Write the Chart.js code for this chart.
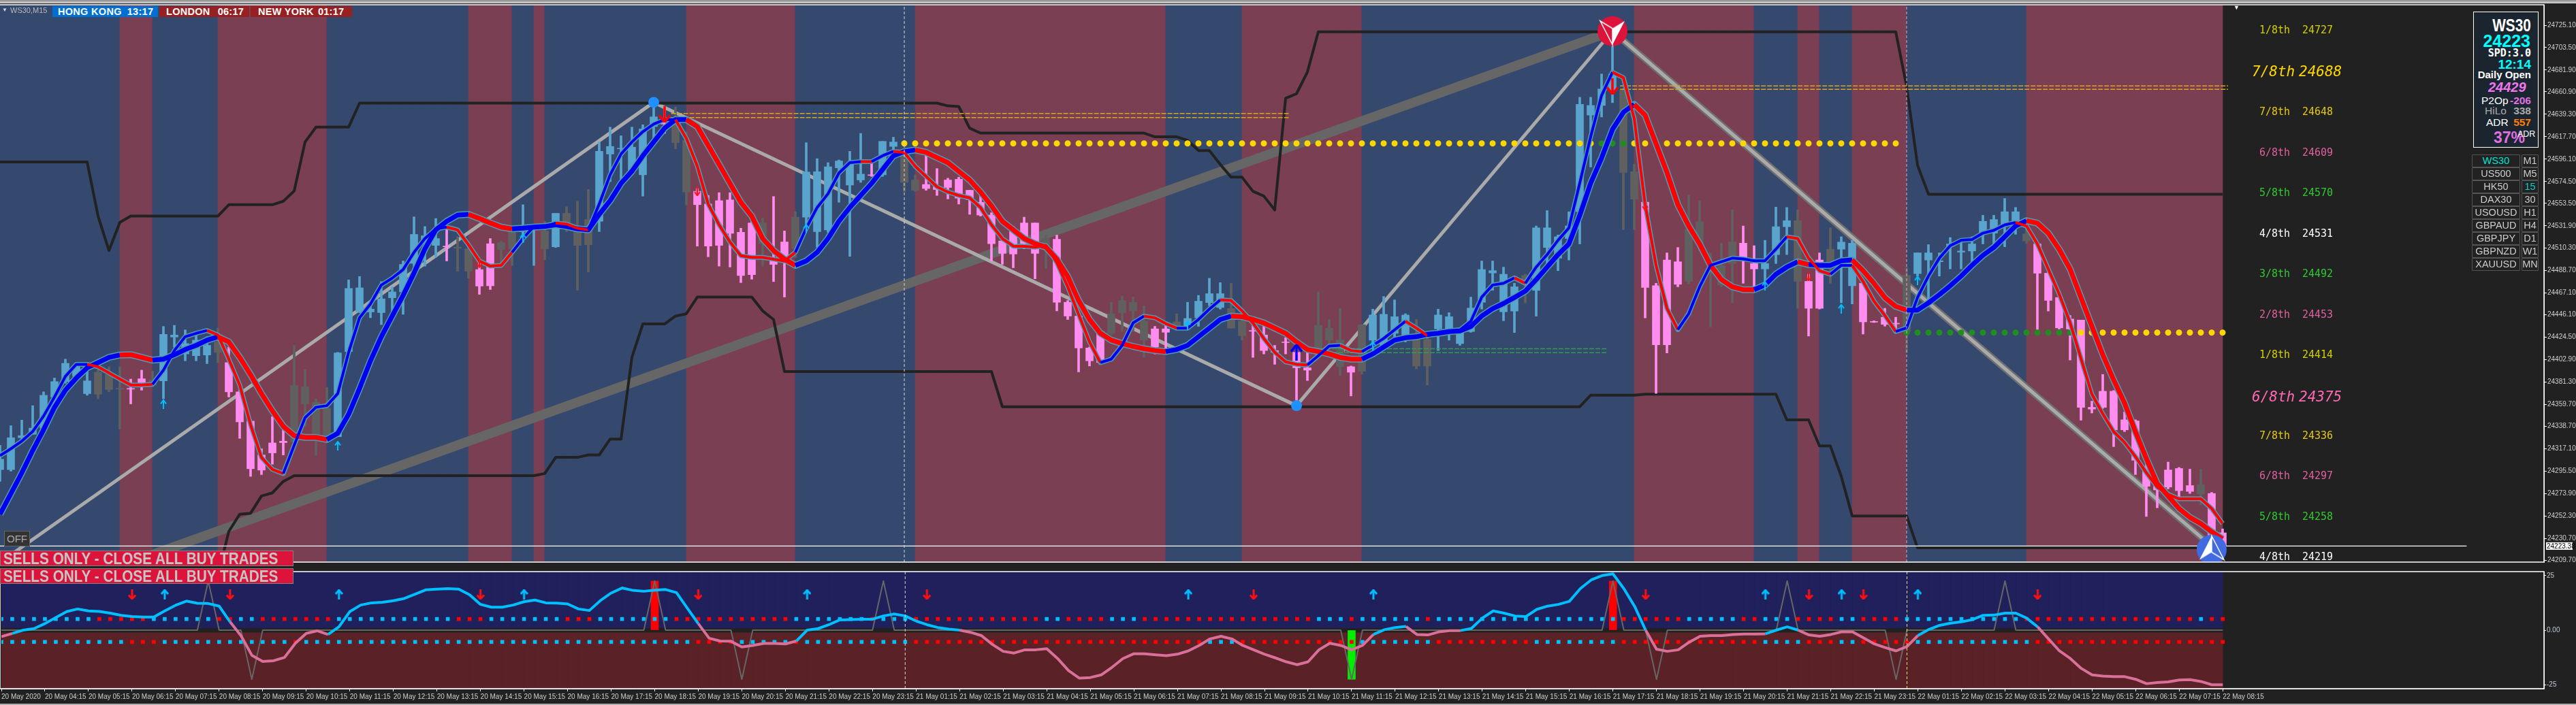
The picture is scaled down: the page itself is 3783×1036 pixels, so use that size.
<!DOCTYPE html>
<html>
<head>
<meta charset="utf-8">
<title>WS30,M15</title>
<script src="https://cdn.jsdelivr.net/npm/chart.js@4"></script>
<style>
html, body { margin: 0; padding: 0; background: #212121; width: 3783px; height: 1036px; overflow: hidden; }
canvas { position: absolute; left: 0; }
#mainChart { top: 0; }
#subChart { top: 833px; }
.ui { position: absolute; white-space: nowrap; font-family: "Liberation Sans", sans-serif; }
#topStrip { left: 0; top: 0; width: 3783px; height: 5px; background: linear-gradient(#8a8a8a, #d8d8d8); }
#bottomStrip { left: 0; top: 1034px; width: 3783px; height: 2px; background: #b0b0b0; }
.badge { height: 16px; top: 9px; color: #fff; font-weight: bold; font-size: 14.5px; line-height: 16px; letter-spacing: .3px; }
.banner { left: 0; width: 429px; height: 21px; background: #dc143c; border: 1px solid #808080; color: #c4c4c4; font-weight: bold; font-size: 24px; line-height: 21px; overflow: hidden; }
.banner span { display: inline-block; margin-left: 4px; transform: scaleX(.865); transform-origin: left center; }
#offBtn { left: 6px; top: 780px; width: 36px; height: 21px; background: #333; border: 1px solid #666; color: #aaa; font-size: 15px; line-height: 21px; text-align: center; }
#hudBox { left: 3632px; top: 17px; width: 94px; height: 198px; background: #1a2530; border: 1px solid #fff; }
.hud { transform: translateY(-50%); line-height: 1; }
.cell { height: 17px; background: #222; border: 1px solid #555; border-radius: 1px; color: #ccc; font-size: 14.5px; line-height: 17px; text-align: center; box-sizing: content-box; }
</style>
</head>
<body>
<canvas id="mainChart" width="3783" height="833"></canvas>
<canvas id="subChart" width="3783" height="203"></canvas>

<div class="ui" id="topStrip"></div>
<div class="ui" id="bottomStrip"></div>

<div class="ui" style="left:3px;top:10px;color:#ddd;font-size:8px;">▼</div>
<div class="ui" style="left:15px;top:9px;color:#bbb;font-size:11px;">WS30,M15</div>
<div class="ui" style="left:3280px;top:6px;color:#fff;font-size:9px;">▼</div>

<div class="ui badge" style="left:77px;width:155px;background:#0070d0;"><span style="margin-left:8px;">HONG KONG</span><span style="margin-left:8px;">13:17</span></div>
<div class="ui badge" style="left:234px;width:132px;background:#962022;"><span style="margin-left:10px;">LONDON</span><span style="margin-left:11px;">06:17</span></div>
<div class="ui badge" style="left:368px;width:149px;background:#962022;"><span style="margin-left:11px;">NEW YORK</span><span style="margin-left:6px;">01:17</span></div>

<div class="ui" id="offBtn">OFF</div>
<div class="ui banner" style="top:809px;"><span>SELLS ONLY - CLOSE ALL BUY TRADES</span></div>
<div class="ui banner" style="top:835px;"><span>SELLS ONLY - CLOSE ALL BUY TRADES</span></div>

<div class="ui" id="hudBox"></div>
<div class="ui hud" style="right:66px;top:37px;color:#fff;font-weight:bold;font-size:26px;transform:translateY(-50%) scaleX(.8);transform-origin:right center;">WS30</div>
<div class="ui hud" style="right:67px;top:60px;color:#0ff;font-weight:bold;font-size:25px;">24223</div>
<div class="ui hud" style="right:66px;top:78px;color:#fff;font:bold 15px 'DejaVu Sans Mono';">SPD:3.0</div>
<div class="ui hud" style="right:66px;top:94px;color:#0ff;font-weight:bold;font-size:19px;">12:14</div>
<div class="ui hud" style="right:66px;top:109px;color:#fff;font-weight:bold;font-size:15px;">Daily Open</div>
<div class="ui hud" style="left:3654px;top:128px;color:#ee77ee;font-weight:bold;font-style:italic;font-size:20px;">24429</div>
<div class="ui hud" style="left:3644px;top:148px;color:#fff;font-size:15.5px;">P2Op</div>
<div class="ui hud" style="right:66px;top:148px;color:#e070e0;font-weight:bold;font-size:15.5px;">-206</div>
<div class="ui hud" style="left:3649px;top:163px;color:#aaa;font-size:15.5px;">HiLo</div>
<div class="ui hud" style="right:66px;top:163px;color:#aaa;font-weight:bold;font-size:15.5px;">338</div>
<div class="ui hud" style="left:3651px;top:180px;color:#fff;font-size:15.5px;">ADR</div>
<div class="ui hud" style="right:66px;top:180px;color:#ff8000;font-weight:bold;font-size:15.5px;">557</div>
<div class="ui hud" style="left:3662px;top:202px;color:#e070e0;font-weight:bold;font-size:23px;">37%</div>
<div class="ui hud" style="left:3697px;top:197px;color:#fff;font-size:12.5px;">ADR</div>

<div id="symbolTable"></div>

<script>
// ---- candles (15 min bars, 205 of them)
var bodyTop = [
24307,24327.7,24329.7,24337,24368.6,24381.8,24399.4,24396.8,24382.5,24390.8,24388.5,24375.2,24375.2,24384.5,24383.5,24427.3,24426.7,24418.4,24421.7,24416.7,
24420,24400.1,24371.9,24343.7,24311.1,24322.7,24324.4,24377.9,24376.9,24361.9,24356,24409.4,24471.5,24472.1,24451.6,24461.5,24468.2,24494.7,24523.6,24522.3,
24519.6,24512.3,24511.3,24509.7,24489.7,24514.6,24515.6,24526.3,24531.2,24531.2,24526.9,24543.9,24543.9,24526.3,24537.9,24603.6,24608.3,24606.6,24607.6,24625.2,
24636.8,24630.8,24629.2,24614.2,24565.1,24552.8,24556.1,24556.8,24525.6,24534.6,24534.6,24501.4,24516.3,24540.2,24583.7,24584,24588.7,24594.3,24592,24581.7,
24581,24613.2,24612.6,24601,24576,24571.7,24569.4,24576,24576.7,24566.1,24554.5,24542.2,24517.3,24527.9,24534.6,24534.6,24519.6,24518.9,24458.2,24444.9,
24414.2,24430,24447.2,24459.9,24458.2,24440,24432.6,24432.6,24439.3,24442.6,24459.2,24466.5,24466.5,24452.2,24440,24431,24426.7,24411.7,24420,24410,
24395.1,24436,24433.3,24421.7,24396.1,24436.6,24445.9,24446.6,24444.3,24445.9,24421.7,24422.3,24445.9,24444.3,24430,24452.6,24489.7,24488.7,24485.2,24473.1,
24484.1,24529.9,24529.9,24521.3,24531.7,24648.8,24647.8,24663.6,24678.1,24662.6,24584,24554.7,24474.1,24498.9,24497.2,24528.2,24535.8,24495.5,24493.8,24516.2,
24515.1,24495.5,24495.5,24531,24536.8,24536.8,24478.3,24498.9,24509.3,24516.2,24515.1,24476.5,24439.7,24443.8,24438,24484.1,24505.8,24505.8,24498.2,24514.4,
24507.6,24514.4,24536.1,24537.9,24545.4,24545.4,24524.1,24514.4,24486.2,24462.8,24442.1,24441,24357,24372.5,24372.5,24345,24343.9,24299.1,24280.9,24296.7,
24298.1,24281.6,24282.6,24274,24236.1];
var bodyBottom = [
24297,24297,24327.7,24331,24337,24366.9,24381.8,24386.8,24370.2,24369.6,24374.2,24374.5,24374.5,24380.2,24378.5,24382.5,24424.7,24408.4,24406.7,24407.4,
24410,24371.9,24343,24297.8,24296.5,24313.1,24323,24323.7,24360.3,24330.4,24329.7,24328.7,24410.7,24448.9,24448.9,24448.2,24462.5,24468.2,24495.7,24518,
24513,24511.6,24510.3,24488.1,24473.8,24474.1,24509,24509.7,24526.3,24528.9,24509.7,24511.6,24534.6,24513,24513.6,24536.2,24601,24606,24584.4,24581,
24627.5,24629.8,24611.9,24564.4,24552.2,24512.3,24513,24524.6,24484,24484.8,24514.6,24494.7,24499.7,24509.7,24540.2,24526.3,24527.9,24587.7,24571.1,24576,
24580.4,24581,24608.3,24573.7,24566.1,24567.8,24566.8,24568.8,24558.5,24557.1,24542.2,24514.6,24505.3,24504.7,24514.6,24505.3,24513,24458.2,24444.9,24414.2,
24401.8,24400.1,24428.3,24448.2,24449.9,24421.7,24415,24429.3,24435,24434,24443.3,24457.9,24453.2,24433.3,24426,24430.3,24411.7,24410,24419.4,24395.1,
24392.8,24413.4,24421.7,24396.1,24390.8,24391.8,24421.7,24416.7,24428.3,24426.7,24396.8,24396.8,24432.6,24430,24418.4,24430,24458.2,24486.4,24449,24449.7,
24476.5,24469.7,24511,24500.7,24519.6,24545.4,24638.5,24647.8,24662.6,24583.3,24557.5,24472.4,24417.3,24417.3,24475.5,24478.3,24514.4,24493.8,24474.8,24495.5,
24500.7,24490.3,24490.3,24504.1,24531,24478.3,24452.4,24452.4,24497.2,24509.3,24474.1,24439.3,24439,24436.9,24437.3,24430,24485.8,24498.9,24497.2,24512,
24506.5,24507.6,24524.8,24524.8,24533.4,24535.8,24517.2,24486.2,24460,24433.5,24432.4,24357,24355.3,24357,24335.3,24335.3,24306,24280.9,24277.4,24280.2,
24276.7,24276,24273.3,24232,24223.3];
var wickHigh = [
24320.4,24339.3,24344.7,24358.6,24371.9,24385.2,24403.4,24400.1,24398.4,24393.5,24396.1,24396.1,24384.2,24392.8,24391.8,24434.9,24436,24431.6,24426.7,24425,
24433.3,24415,24373.5,24345.3,24317.1,24348,24340.3,24416.7,24393.5,24365.2,24376.2,24410,24479.8,24483.1,24459.9,24478.1,24473.1,24498,24540.5,24531.2,
24538.9,24529.6,24521.3,24516.3,24496.4,24519.6,24517.3,24529.6,24552.2,24532.9,24536.2,24543.9,24550.2,24555.5,24566.8,24612.6,24626.9,24618.6,24626.9,24629.2,
24649.1,24645.1,24646.4,24622.5,24567.8,24561.1,24563.8,24563.8,24529.6,24536.2,24539.5,24560.1,24526.9,24545.5,24611.9,24596.6,24592.7,24595.3,24603.6,24620.9,
24595.3,24613.2,24617.2,24606,24581,24599.3,24587,24577.7,24578.7,24566.1,24561.1,24544.5,24519.6,24531.2,24540.2,24534.6,24522.9,24522.9,24459.9,24449.9,
24415,24431.6,24458.2,24464.2,24463.2,24454.9,24435,24436.6,24447.2,24458.2,24464.8,24481.4,24477.1,24476.4,24446.6,24443.9,24436.6,24416.7,24424,24413.4,
24411.7,24468.2,24441.6,24452.2,24396.8,24436.6,24451.6,24463.8,24460.5,24447.2,24441.6,24426.7,24451.6,24448.2,24431.6,24463.2,24498,24498,24492.1,24476.5,
24485.2,24531.7,24546.5,24523,24545.4,24655.7,24655.7,24678.1,24721.1,24664.3,24591.3,24555.8,24476.5,24505.8,24511,24561.6,24555.8,24505.8,24515.1,24547.2,
24531.7,24512.7,24517.9,24549.9,24549.6,24547.2,24485.2,24505.8,24529.9,24521.3,24517.9,24478.3,24440.4,24452.4,24443.8,24492.1,24505.8,24513.7,24505.8,24520.6,
24516.2,24521.3,24542,24542,24558.2,24549.6,24529.9,24516.2,24487.6,24466.2,24445.5,24441,24362.9,24388.7,24373.2,24352.5,24345,24302.6,24283.6,24304.3,
24299.1,24297.4,24297.4,24275,24239.9];
var wickLow = [
24285.6,24295.5,24326.4,24331,24337,24357,24380.2,24385.2,24368.6,24365.2,24371.9,24336,24360.3,24373.5,24376.9,24365.2,24415,24401.8,24401.8,24399.1,
24400.1,24366.9,24327.1,24290.5,24292.2,24302.2,24311.1,24322.1,24338.7,24310.5,24327.1,24328.7,24409.4,24448.2,24443.3,24436.6,24443.3,24446.6,24493,24493,
24501.4,24498,24488.1,24481.4,24465.8,24470.5,24494.7,24493.7,24516.3,24493.7,24499,24511,24526.3,24469.8,24487.4,24526.3,24574.4,24576.1,24581,24560.5,
24615.9,24620.9,24606,24551.8,24512.3,24502,24493,24492.1,24477.1,24480.4,24493,24478.1,24463.2,24501.4,24529.6,24511.3,24525.6,24554.5,24502.4,24573.7,
24579.4,24579.4,24602.6,24564.4,24565.1,24566.1,24561.1,24557.8,24552.8,24542.9,24541.2,24498,24494.7,24491.4,24509.7,24480.8,24490.7,24449.9,24441.6,24391.1,
24396.8,24398.4,24426.7,24430,24430,24405.1,24408.4,24413.4,24433.3,24431.6,24435,24454.9,24451.6,24433.3,24421.7,24405.1,24408.4,24398.4,24408.4,24360.3,
24382.8,24411.7,24413.4,24387.5,24367.9,24389.1,24413.4,24413.4,24421.7,24420,24394.1,24378.5,24411.7,24421.7,24416.7,24429.3,24451.6,24469.8,24440.4,24429,
24457.6,24444.8,24488.6,24488.6,24498.9,24514.4,24588.5,24636.7,24650.5,24528.2,24528.2,24443.1,24370.4,24409.4,24473.1,24475.9,24507.5,24434.5,24473.1,24457.6,
24476.5,24469,24474.8,24495.5,24504.1,24452.4,24425.6,24451.7,24476.5,24457.6,24456.6,24427.6,24438.7,24435.2,24429,24409.4,24483.4,24457.6,24483.4,24490.3,
24490.3,24495.5,24514.4,24514.4,24511.7,24523.7,24515.1,24431.8,24449.7,24432.4,24402.5,24344.6,24351.5,24356,24319.1,24333.6,24292.2,24251.9,24260.2,24278.4,
24268.1,24274,24262.9,24232,24221.6];
// b = up, p = down, g = grey (neutral) candle
var candleKind =
  "bbbbbbbbbgggppgbbbbbgppppppggggbbbbbbbbbbpggppggbbgbgggbbbbbbpggppppppgppg" +
  "bbbbbbpbbggppppppppppp" + "gpppppggggppgbbbbggppppppgggpgbbbbggbbbbbbbbgbbbbbbbb" +
  "ggppppgggggppbbbgppgbbppppgbbbbbbbbbbgpppppppppppppppgpp";

// ---- two moving averages
var fastMa = [
24310.5,24317.1,24324.4,24333.7,24348.6,24366.9,24386.8,24398.4,24398.4,24396.1,24390.1,24384.2,24378.5,24378.5,24379.2,24392.8,24411.7,24425,24428.3,24431,
24426.7,24403.4,24378.5,24340.3,24308.8,24297.2,24293.2,24320.4,24347,24357,24358.6,24370.2,24410,24443.3,24456.5,24474.8,24481.4,24489.7,24506.3,24519.6,
24528.9,24530.6,24527.9,24513.6,24498,24493,24493.7,24506.3,24519.6,24531.2,24530.6,24534.6,24533.6,24529.6,24527.9,24552.8,24581,24601,24612.6,24622.5,
24629.8,24634.2,24634.2,24615.9,24589.3,24552.8,24532.9,24516.3,24503,24501.4,24501.4,24499.7,24498,24506.3,24529.6,24549.5,24562.8,24582.7,24592.7,24593.7,
24593.7,24599.3,24603.6,24602.6,24589.3,24579.4,24569.4,24564.4,24561.1,24558.8,24549.5,24532.9,24519.6,24512.3,24512,24511.3,24513,24496.4,24473.1,24446.6,
24420,24400.1,24403.4,24416.7,24438.3,24444.9,24443.3,24437.6,24433.3,24433.3,24441.6,24451.6,24460.5,24459.9,24449.9,24438.3,24423.3,24410,24400.8,24398.4,
24397.8,24406.7,24416,24416.7,24411.7,24410.7,24416.7,24423.3,24431.6,24439.9,24433.3,24426,24428.3,24430,24431.6,24439.9,24463.2,24474.8,24476.5,24481.7,
24476.5,24492.1,24504.1,24517.9,24529.9,24573,24617.8,24657.4,24679.8,24674.6,24635,24552.3,24493.8,24452.4,24431.8,24447.3,24473.1,24493.8,24497.2,24500.7,
24500,24498.2,24498.2,24509.3,24521.3,24519.6,24500.7,24488.6,24485.2,24493.8,24493.8,24478.3,24459.3,24445.5,24430,24433.5,24462.8,24483.4,24500.7,24512.7,
24517.9,24518.6,24524.8,24527.5,24532.7,24535.1,24531.7,24514.4,24490.3,24466.2,24438.6,24404.2,24369.8,24350.8,24333.6,24323.2,24309.5,24294,24280.2,24273.3,
24268.8,24268.8,24268.8,24259.5,24245];
var slowMa = [
24254,24273.9,24293.9,24315.4,24335.4,24357,24373.5,24385.2,24395.1,24400.1,24405.1,24407.4,24407.7,24405.1,24402.4,24403.4,24407.7,24412.7,24416.7,24421.7,
24425,24420,24405.1,24388.5,24370.2,24353.6,24338.7,24329.7,24328,24328,24326,24332,24350.3,24375.2,24401.8,24425,24444.9,24464.8,24486.4,24509.7,
24527.9,24536.2,24542.2,24542.9,24538.9,24534.6,24530.6,24528.9,24529.6,24530.6,24531.2,24532.9,24531.2,24528.9,24527.9,24542.9,24556.1,24572.7,24584.4,24599.3,
24612.6,24625.9,24634.2,24634.2,24627.5,24609.3,24591,24572.7,24554.5,24541.2,24519.6,24508,24499.7,24493.7,24498,24506.3,24519.6,24536.2,24549.5,24561.1,
24572.7,24586,24599.3,24603.3,24604.9,24602.6,24597.6,24592.7,24584.4,24576,24564.4,24551.2,24536.2,24527.9,24519.6,24514.6,24511.3,24499.7,24483.1,24459.9,
24441.6,24428.3,24421.7,24418.4,24415.7,24413.4,24411.7,24410.7,24412.7,24416.7,24425,24433.3,24441.6,24444.9,24444.3,24441.6,24438.3,24433.3,24428.3,24420,
24412.7,24410.7,24408.4,24405.1,24403.4,24403.4,24408.4,24415,24421.7,24424,24425,24427.3,24428.3,24430,24430.6,24434.9,24444.9,24452,24457,24462.8,
24469,24480,24492.1,24504.1,24514.4,24542,24573,24597.1,24624.7,24641.2,24648.8,24638.5,24610.9,24583.3,24552.3,24531.7,24514.4,24493.8,24480,24473.1,
24470.3,24470.3,24474.8,24485.2,24492.1,24497.2,24494.5,24493.8,24493.8,24498.2,24498.9,24488.6,24476.5,24462.8,24454.2,24450.7,24450.7,24457.6,24465.5,24474.1,
24483.4,24493.8,24503.4,24511,24521.3,24531.7,24536.8,24534.4,24524.8,24509.3,24490.3,24462.8,24435.2,24407.7,24383.5,24361.1,24333.6,24307.7,24283.6,24271.6,
24259.5,24250.9,24245,24237.1,24230.2];
// runs of bars where each average is red, otherwise blue
var fastRedRuns = [[8,14],[19,26],[41,47],[51,54],[62,73],[79,80],[82,101],[105,108],[112,120],[123,125],[129,131],[139,140],[148,154],[164,168],[170,174],[185,204]];
var slowRedRuns = [[11,14],[20,30],[43,47],[63,73],[84,107],[113,125],[150,161],[165,166],[170,175],[186,204]];

// ---- black channel, only the corners: [bar, price]
var upperBand = [[0,24593.3],[8,24593.3],[9,24541.2],[10,24508],[11,24535.2],[12,24541.2],[20,24541.2],[21,24552.2],[25,24552.2],[26,24555.5],[27,24565.4],[28,24612.6],[29,24626.9],[32,24626.9],[33,24650.1],[86,24650.1],[87,24647.4],[88,24646.8],[89,24625.9],[90,24621.2],[105,24621.2],[106,24617.6],[108,24617.6],[109,24614.2],[110,24604.3],[111,24604.3],[112,24591],[113,24578.7],[114,24578.7],[115,24565.1],[116,24560.5],[117,24547.2],[118,24654.7],[119,24659.1],[120,24680],[121,24718.8],[174,24718.8],[175,24666],[176,24590.2],[177,24562.3],[204,24562.3]];
var lowerBand = [[20,24195],[21,24237.4],[22,24254],[23,24255],[24,24271.6],[25,24274.6],[26,24285.6],[27,24291.2],[49,24291.2],[50,24293.2],[51,24308.8],[53,24308.8],[54,24311.1],[55,24311.1],[56,24326.4],[57,24326.4],[58,24405.1],[59,24437.3],[61,24437.3],[62,24444.9],[63,24447.2],[64,24463.2],[69,24463.2],[70,24449.9],[71,24441.6],[72,24391.5],[91,24391.5],[92,24357.6],[145,24357.6],[146,24368.7],[150,24368.7],[151,24369.7],[163,24369.7],[164,24344.9],[166,24344.9],[167,24319.8],[168,24319.8],[169,24290.5],[170,24252.3],[175,24252.3],[176,24221.6],[204,24221.6]];

// ---- zigzag swings and the long grey trend line
var zigzagUp = [[0,24207.6],[60,24650.8]];
var zigzagDown = [[60,24650.8],[119,24358.6]];
var zigzagUp2 = [[119,24358.6],[148,24719.4]];
var zigzagDown2 = [[148,24719.4],[203,24223]];
var trendLine = [[12,24207.6],[148,24719.4]];

// ---- horizontal levels
var dailyOpenA = 24611.2, dailyOpenAFrom = 83, dailyOpenATo = 174, dailyOpenAGreen = [147,148,149];
var dailyOpenB = 24429, dailyOpenBFrom = 175, dailyOpenBTo = 204, dailyOpenBGreenTo = 190;
var goldWaves = [[61.6,118.4,24640.1],[61.6,118.4,24636.2],[148.7,204.5,24666.7],[148.7,204.5,24663.3]];
var greenWaves = [[120,147.5,24413.4],[120,147.5,24409.7]];
var currentPrice = 24223.38, currentPriceTo = 226.4;
var levelText = ["1/8th","7/8th","7/8th","6/8th","5/8th","4/8th","3/8th","2/8th","1/8th","6/8th","7/8th","6/8th","5/8th","4/8th"];
var levelValue = [24727,24688,24648,24609,24570,24531,24492,24453,24414,24375,24336,24297,24258,24219];
var levelColor = ["#d2d000","#ffd700","#e6c814","#e0609f","#32c832","#ffffff","#32c832","#e0609f","#d2d000","#ff69b4","#e6c814","#e0609f","#32c832","#ffffff"];
var levelStrong = [1,9];

// ---- session shading, red runs on a blue ground
var sessionEnd = 204;
var redSessions = [[11,14],[20,30],[43,47],[49,50],[63,73],[84,107],[114,125],[150,161],[165,167],[170,175],[186,204]];

// ---- arrows and swing markers [bar, price]
var upArrows = [[15,24360],[31,24320],[48,24520],[74,24529],[109,24436],[126,24416],[162,24474],[169,24452],[176,24479]];
var downArrows = [[44,24496],[64,24565],[151,24551],[166,24483]];
var bigDownArrows = [[61,24639],[148,24666]];
var bigUpArrows = [[119,24410]];
var swingDots = [[60,24650.8],[119,24358.6]];
var topMarker = [148,24719.4], bottomMarker = [203,24220];
var dashedBars = [83,175];

// ---- price axis
var priceTicks = [24725.10,24703.50,24681.90,24660.90,24639.30,24617.70,24596.10,24574.50,24553.50,24531.90,24510.30,24488.70,24467.10,24446.10,24424.50,24402.90,24381.30,24359.70,24338.70,24317.10,24295.50,24273.90,24252.30,24230.70,24209.70];
var priceMin = 24207.9, priceMax = 24744.8;

// ---- lower panel
var oscValues = [
-3,-1.5,0,.7,3,5.8,8.5,9.7,8.8,8.6,7.8,6.8,6.2,6,6,8.8,11.4,13.3,12.3,12.2,
11,3.8,-2.5,-11.5,-14.3,-14,-12.5,-6,-1.5,-.3,-2,1.5,8.5,11.5,12.5,12.8,13.5,14.5,16.5,18.5,
18.8,19,18.8,16.2,11.8,10.5,10.5,11.5,13,13.8,12.5,12.4,12,9.7,9,13.5,17,19.3,18.2,17.8,
18.3,18.6,17.2,10,3,-3.7,-5,-5.1,-7.7,-7,-6.1,-6.1,-6.3,-5,0,.7,2.5,4.7,4.8,5,
5,6.5,7.4,6.5,4.2,2.5,1.2,.5,0,-1,-2.5,-6.5,-9.7,-10.5,-9,-9,-8.5,-13,-18.5,-22,
-21.7,-20.5,-17,-13,-10.8,-10.8,-11.3,-11.7,-11,-9.5,-7,-4,-2.8,-4,-7,-9,-11,-12.7,-14.5,-15.8,
-14.5,-9,-6,-7,-9,-7,-2,.2,1.2,1.7,-2,-2.2,-.8,-.2,-.2,.8,5.5,8.8,7.8,6.5,
6.2,9.5,11,11.8,13.2,19,23,25,25.8,19,10.8,0,-8.7,-9.7,-9,-5.5,-2.8,-2.5,-2.5,-2,
-1.8,-1.8,-1.7,0,1.5,0,-2.2,-2.8,-2,-.8,-.8,-3.5,-6.3,-8,-9.5,-7.5,-2.5,.3,2.2,3.2,
3.8,4.8,6.8,6.9,7.8,7.8,5.5,1.5,-4,-9.5,-13,-17.5,-20.5,-21,-21.3,-21.3,-22.5,-24.5,-24,-23.7,
-22.8,-22.7,-23.5,-25,-25];
var spikeUpBars = [19,60,81,148,164,184];
var spikeDownBars = [23,68,124,152,174];
var spikeHeight = 22.5;
var histRedBars = [60,148], histGreenBars = [124];
var upperLevel = 5.1, lowerLevel = -5.4;
var upperRedRuns = [[9,13],[20,21],[24,30],[42,44],[52,54],[62,72],[80,80],[84,95],[98,101],[105,120],[124,124],[131,131],[149,154],[160,161],[165,168],[171,174],[186,201],[203,204]];
var lowerRedRuns = [[12,14],[27,27],[64,67],[73,73],[84,110],[114,124],[132,140],[149,161],[166,168],[171,175],[187,204]];
var oscUpArrows = [15,31,48,74,109,126,162,169,176];
var oscDownArrows = [12,21,44,64,85,115,151,166,171,187];
var oscArrowLevel = 16.3;
var oscTicks = [25,0,-25];
var oscMin = -26.8, oscMax = 26.8;

var timeLabels = ["20 May 2020","20 May 04:15","20 May 05:15","20 May 06:15","20 May 07:15","20 May 08:15","20 May 09:15","20 May 10:15","20 May 11:15","20 May 12:15","20 May 13:15","20 May 14:15","20 May 15:15","20 May 16:15","20 May 17:15","20 May 18:15","20 May 19:15","20 May 20:15","20 May 21:15","20 May 22:15","20 May 23:15",
"21 May 01:15","21 May 02:15","21 May 03:15","21 May 04:15","21 May 05:15","21 May 06:15","21 May 07:15","21 May 08:15","21 May 09:15","21 May 10:15","21 May 11:15","21 May 12:15","21 May 13:15","21 May 14:15","21 May 15:15","21 May 16:15","21 May 17:15","21 May 18:15","21 May 19:15","21 May 20:15","21 May 21:15","21 May 22:15","21 May 23:15",
"22 May 01:15","22 May 02:15","22 May 03:15","22 May 04:15","22 May 05:15","22 May 06:15","22 May 07:15","22 May 08:15"];
var timeLabelStep = 4;

var symbols = ["WS30","US500","HK50","DAX30","USOUSD","GBPAUD","GBPJPY","GBPNZD","XAUUSD"];
var periods = ["M1","M5","15","30","H1","H4","D1","W1","MN"];

// ---- colours
var bullColor = "#5aa5cd", bearColor = "#ff8df0", flatColor = "#606060";
var sessionBlue = "#35496f", sessionRed = "#7a3f52";
var maRed = "#ff0000", maBlue = "#0000f0", maEdge = "#4f9bb5";
var oscCyan = "#00bfff", oscPink = "#d8709a";

var xMax = 233.5; // 3736 px at 16 px a bar

function inRuns(runs, i) {
  for (var r = 0; r < runs.length; r++) {
    if (i >= runs[r][0] && i <= runs[r][1]) return true;
  }
  return false;
}
function inOpenRuns(runs, i) {
  for (var r = 0; r < runs.length; r++) {
    if (i >= runs[r][0] && i < runs[r][1]) return true;
  }
  return false;
}
function toPoints(pairs) {
  return pairs.map(function (p) { return {x: p[0], y: p[1]}; });
}
function barRange(lo, hi) {
  var out = [];
  for (var i = 0; i < sessionEnd; i++) out.push({x: i + 0.5, y: [lo, hi]});
  return out;
}

function arrowImage(color, up, w, h, stem) {
  var c = document.createElement("canvas");
  c.width = w; c.height = h;
  var g = c.getContext("2d");
  if (!up) { g.translate(0, h); g.scale(1, -1); }
  g.strokeStyle = color; g.fillStyle = color;
  g.lineWidth = stem;
  g.beginPath(); g.moveTo(w / 2, h); g.lineTo(w / 2, 2); g.stroke();
  g.lineWidth = stem;
  g.beginPath(); g.moveTo(1, h * 0.45); g.lineTo(w / 2, 1); g.lineTo(w - 1, h * 0.45); g.stroke();
  return c;
}
function markerImage(color, up) {
  var s = 46, c = document.createElement("canvas");
  c.width = s; c.height = s;
  var g = c.getContext("2d");
  g.fillStyle = color;
  g.beginPath(); g.arc(s / 2, s / 2, 22, 0, Math.PI * 2); g.fill();
  g.translate(s / 2, s / 2);
  if (!up) g.rotate(Math.PI);
  // left facet filled, right facet outlined
  g.fillStyle = "#fff"; g.strokeStyle = "#fff"; g.lineWidth = 1.5;
  g.beginPath(); g.moveTo(0, -20); g.lineTo(0, 4); g.lineTo(-18, 15); g.closePath(); g.fill();
  g.beginPath(); g.moveTo(0, -20); g.lineTo(18, 15); g.lineTo(0, 4); g.closePath(); g.stroke();
  return c;
}

function lineSet(data, color, width, order, extra) {
  var ds = {type: "line", data: data, borderColor: color, borderWidth: width, pointRadius: 0, tension: 0, fill: false, order: order, borderJoinStyle: "round"};
  for (var k in extra) ds[k] = extra[k];
  return ds;
}
function pointSet(data, style, order, extra) {
  var ds = {type: "line", showLine: false, data: data, pointStyle: style, pointRadius: 5, pointBorderWidth: 0, order: order};
  for (var k in extra) ds[k] = extra[k];
  return ds;
}
function barSet(data, colors, thickness, order) {
  return {type: "bar", data: data, backgroundColor: colors, barThickness: thickness, grouped: false, order: order, borderWidth: 0};
}

// ---- main panel datasets
var barCount = bodyTop.length;
var candleColors = [], wickData = [], bodyData = [], sessionColors = [], fastPts = [], slowPts = [];
for (var i = 0; i < barCount; i++) {
  var kind = candleKind.charAt(i);
  candleColors.push(kind === "b" ? bullColor : kind === "p" ? bearColor : flatColor);
  wickData.push({x: i, y: [wickLow[i], wickHigh[i]]});
  bodyData.push({x: i, y: [bodyBottom[i], bodyTop[i]]});
  fastPts.push({x: i, y: fastMa[i]});
  slowPts.push({x: i, y: slowMa[i]});
}
for (var s = 0; s < sessionEnd; s++) sessionColors.push(inOpenRuns(redSessions, s) ? sessionRed : sessionBlue);

var dotsA = [], dotsAColors = [], dotsB = [], dotsBColors = [];
for (var a = dailyOpenAFrom; a <= dailyOpenATo; a++) {
  dotsA.push({x: a, y: dailyOpenA});
  dotsAColors.push(dailyOpenAGreen.indexOf(a) >= 0 ? "#228b22" : "#ffd700");
}
for (var b = dailyOpenBFrom; b <= dailyOpenBTo; b++) {
  dotsB.push({x: b, y: dailyOpenB});
  dotsBColors.push(b <= dailyOpenBGreenTo ? "#228b22" : "#ffd700");
}

var mainSets = [
  barSet(barRange(priceMin, priceMax), sessionColors, 16, 100),
  lineSet(toPoints(trendLine), "#666666", 14, 90, {borderCapStyle: "butt"}),
  lineSet(toPoints(zigzagUp), "#aaaaaa", 5, 88),
  lineSet(toPoints(zigzagDown), "#aaaaaa", 5, 88),
  lineSet(toPoints(zigzagUp2), "#aaaaaa", 5, 88),
  lineSet(toPoints(zigzagDown2), "#6e6e6e", 10, 89),
  lineSet(toPoints(zigzagDown2), "#aaaaaa", 5, 88),
  lineSet(toPoints(upperBand), "#222222", 4, 85),
  lineSet(toPoints(lowerBand), "#222222", 4, 85),
  barSet(wickData, candleColors, 3, 80),
  barSet(bodyData, candleColors, 11, 79)
];
goldWaves.forEach(function (w) {
  mainSets.push(lineSet(toPoints([[w[0], w[2]], [w[1], w[2]]]), "#d9a520", 1.5, 75, {borderDash: [7, 2]}));
});
greenWaves.forEach(function (w) {
  mainSets.push(lineSet(toPoints([[w[0], w[2]], [w[1], w[2]]]), "#2e9b4f", 1.5, 75, {borderDash: [7, 2]}));
});
mainSets.push(pointSet(dotsA, "circle", 70, {pointRadius: 4.5, pointBackgroundColor: dotsAColors}));
mainSets.push(pointSet(dotsB, "circle", 70, {pointRadius: 4.5, pointBackgroundColor: dotsBColors}));
mainSets.push(lineSet(slowPts, maEdge, 10, 62));
mainSets.push(lineSet(fastPts, maEdge, 7, 61));
mainSets.push(lineSet(slowPts, maBlue, 7, 52, {segment: {borderColor: function (c) { return inOpenRuns(slowRedRuns, c.p0DataIndex) ? maRed : maBlue; }}}));
mainSets.push(lineSet(fastPts, maBlue, 4, 51, {segment: {borderColor: function (c) { return inOpenRuns(fastRedRuns, c.p0DataIndex) ? maRed : maBlue; }}}));
mainSets.push(lineSet(toPoints([[0, currentPrice], [currentPriceTo, currentPrice]]), "#ffffff", 1.2, 45));
dashedBars.forEach(function (d, n) {
  mainSets.push(lineSet(toPoints([[d, priceMin], [d, priceMax]]), n === 0 ? "#d8d8d8" : "#e8a0c0", 1, 44, {borderDash: [4, 3]}));
});
mainSets.push(pointSet(toPoints(upArrows), arrowImage(oscCyan, true, 10, 14, 2), 40));
mainSets.push(pointSet(toPoints(downArrows), arrowImage("#ff1010", false, 10, 14, 2), 40));
mainSets.push(pointSet(toPoints(bigDownArrows), arrowImage("#ff0000", false, 18, 24, 3.5), 40));
mainSets.push(pointSet(toPoints(bigUpArrows), arrowImage("#0000f0", true, 18, 24, 3.5), 40));
mainSets.push(pointSet(toPoints(swingDots), "circle", 30, {pointRadius: 8, pointBackgroundColor: "#1e90ff"}));
mainSets.push(pointSet(toPoints([topMarker]), markerImage("#dc143c", false), 20));
mainSets.push(pointSet(toPoints([bottomMarker]), markerImage("#4169e1", true), 20));

var panelFrame = {
  id: "panelFrame",
  afterDraw: function (chart) {
    var a = chart.chartArea, g = chart.ctx;
    g.save();
    g.strokeStyle = "#ffffff"; g.lineWidth = 1.5;
    g.strokeRect(a.left - 2, a.top, a.right - a.left + 2, a.bottom - a.top);
    g.restore();
  }
};
var levelLabels = {
  id: "levelLabels",
  afterDatasetsDraw: function (chart) {
    var y = chart.scales.y, g = chart.ctx;
    g.save();
    g.textBaseline = "middle"; g.textAlign = "left";
    levelValue.forEach(function (v, n) {
      var strong = levelStrong.indexOf(n) >= 0;
      g.fillStyle = levelColor[n];
      g.font = strong ? "italic 21px 'DejaVu Sans Mono'" : "15px 'DejaVu Sans Mono'";
      var py = y.getPixelForValue(v) + (strong ? 13 : 10.5);
      g.fillText(levelText[n], strong ? 3307 : 3318, py);
      g.fillText(String(v), strong ? 3376 : 3381, py);
    });
    // current price tag on the axis
    var cy = y.getPixelForValue(currentPrice);
    g.fillStyle = "#ffffff"; g.fillRect(3739, cy - 5.5, 39, 11);
    g.fillStyle = "#000000"; g.font = "10px 'Liberation Sans'";
    g.fillText(currentPrice.toFixed(2), 3740, cy + 0.5);
    g.restore();
  }
};

new Chart(document.getElementById("mainChart"), {
  type: "line",
  data: {datasets: mainSets},
  plugins: [levelLabels, panelFrame],
  options: {
    responsive: false, animation: false, events: [],
    layout: {autoPadding: false, padding: {top: 6, bottom: 2, left: 0, right: 0}},
    plugins: {legend: {display: false}, tooltip: {enabled: false}},
    scales: {
      x: {type: "linear", display: false, min: 0, max: xMax, offset: false},
      y: {
        type: "linear", position: "right", min: priceMin, max: priceMax,
        afterBuildTicks: function (s) { s.ticks = priceTicks.map(function (v) { return {value: v}; }); },
        afterFit: function (s) { s.width = 47; },
        border: {color: "#ffffff"},
        grid: {drawOnChartArea: false, color: "#ffffff", tickLength: 4},
        ticks: {
          color: "#d0d0d0", padding: 1, autoSkip: false,
          font: {family: "'Liberation Sans'", size: 10},
          callback: function (v) { return v.toFixed(2); }
        }
      }
    }
  }
});

// ---- lower panel datasets
var oscPts = [], spikePts = [], upperDots = [], upperColors = [], lowerDots = [], lowerColors = [];
for (var j = 0; j < barCount; j++) {
  oscPts.push({x: j, y: oscValues[j]});
  var sv = 0;
  if (spikeUpBars.indexOf(j) >= 0) sv = spikeHeight;
  if (spikeDownBars.indexOf(j) >= 0) sv = -spikeHeight;
  spikePts.push({x: j, y: sv});
  upperDots.push({x: j, y: upperLevel});
  upperColors.push(inRuns(upperRedRuns, j) ? "#ff0000" : oscCyan);
  lowerDots.push({x: j, y: lowerLevel});
  lowerColors.push(inRuns(lowerRedRuns, j) ? "#ff0000" : oscCyan);
}
var navyColors = [], wineColors = [];
for (var n = 0; n < sessionEnd; n++) { navyColors.push("#1f205c"); wineColors.push("#5a2226"); }

var histData = [], histColors = [];
histRedBars.forEach(function (h) { histData.push({x: h, y: [0, spikeHeight]}); histColors.push("#ff0000"); });
histGreenBars.forEach(function (h) { histData.push({x: h, y: [-spikeHeight, 0]}); histColors.push("#00ee00"); });

var subSets = [
  barSet(barRange(1, oscMax), navyColors, 16, 100),
  barSet(barRange(oscMin, -1.2), wineColors, 16, 100),
  barSet(histData, histColors, 11, 60),
  pointSet(upperDots, "rect", 50, {pointRadius: 4, pointBackgroundColor: upperColors}),
  pointSet(lowerDots, "rect", 50, {pointRadius: 4, pointBackgroundColor: lowerColors}),
  lineSet(spikePts, "#666666", 2, 40),
  lineSet(oscPts, oscCyan, 4, 30, {segment: {borderColor: function (c) { return c.p1.parsed.y >= 0 ? oscCyan : oscPink; }}}),
  pointSet(oscUpArrows.map(function (u) { return {x: u, y: oscArrowLevel}; }), arrowImage(oscCyan, true, 12, 15, 3), 20),
  pointSet(oscDownArrows.map(function (u) { return {x: u, y: oscArrowLevel}; }), arrowImage("#ff1010", false, 12, 15, 3), 20)
];
dashedBars.forEach(function (d, n) {
  subSets.push(lineSet(toPoints([[d, oscMin], [d, oscMax]]), n === 0 ? "#d8d8d8" : "#e8e080", 1, 25, {borderDash: [4, 3]}));
});

new Chart(document.getElementById("subChart"), {
  type: "line",
  data: {datasets: subSets},
  plugins: [panelFrame],
  options: {
    responsive: false, animation: false, events: [],
    layout: {autoPadding: false, padding: {top: 1, bottom: 0, left: 0, right: 0}},
    plugins: {legend: {display: false}, tooltip: {enabled: false}},
    scales: {
      x: {
        type: "linear", position: "bottom", min: 0, max: xMax, offset: false,
        afterBuildTicks: function (s) { s.ticks = timeLabels.map(function (l, k) { return {value: k * timeLabelStep}; }); },
        afterFit: function (s) { s.height = 24; },
        border: {color: "#ffffff"},
        grid: {drawOnChartArea: false, color: "#ffffff", tickLength: 4, offset: false},
        ticks: {
          color: "#d0d0d0", padding: 2, autoSkip: false, maxRotation: 0, minRotation: 0, align: "start",
          font: {family: "'Liberation Sans'", size: 10},
          callback: function (v) { return timeLabels[v / timeLabelStep]; }
        }
      },
      y: {
        type: "linear", position: "right", min: oscMin, max: oscMax,
        afterBuildTicks: function (s) { s.ticks = oscTicks.map(function (v) { return {value: v}; }); },
        afterFit: function (s) { s.width = 47; },
        border: {color: "#ffffff"},
        grid: {drawOnChartArea: false, color: "#ffffff", tickLength: 3},
        ticks: {
          color: "#c0c8d8", padding: 1, autoSkip: false,
          font: {family: "'Liberation Sans'", size: 10},
          callback: function (v) { return v === 0 ? "0.00" : String(v); }
        }
      }
    }
  }
});

// ---- symbol buttons
var tableHost = document.getElementById("symbolTable");
symbols.forEach(function (name, row) {
  var top = 227 + row * 19;
  var left = document.createElement("div");
  left.className = "ui cell";
  left.style.cssText = "left:3630px;width:69px;top:" + top + "px;color:" + (row === 0 ? "#00e0d0" : "#ccc");
  left.textContent = name;
  var right = document.createElement("div");
  right.className = "ui cell";
  right.style.cssText = "left:3703px;width:23px;top:" + top + "px;color:" + (row === 2 ? "#00d0d0" : "#ccc");
  right.textContent = periods[row];
  tableHost.appendChild(left);
  tableHost.appendChild(right);
});
</script>
</body>
</html>
